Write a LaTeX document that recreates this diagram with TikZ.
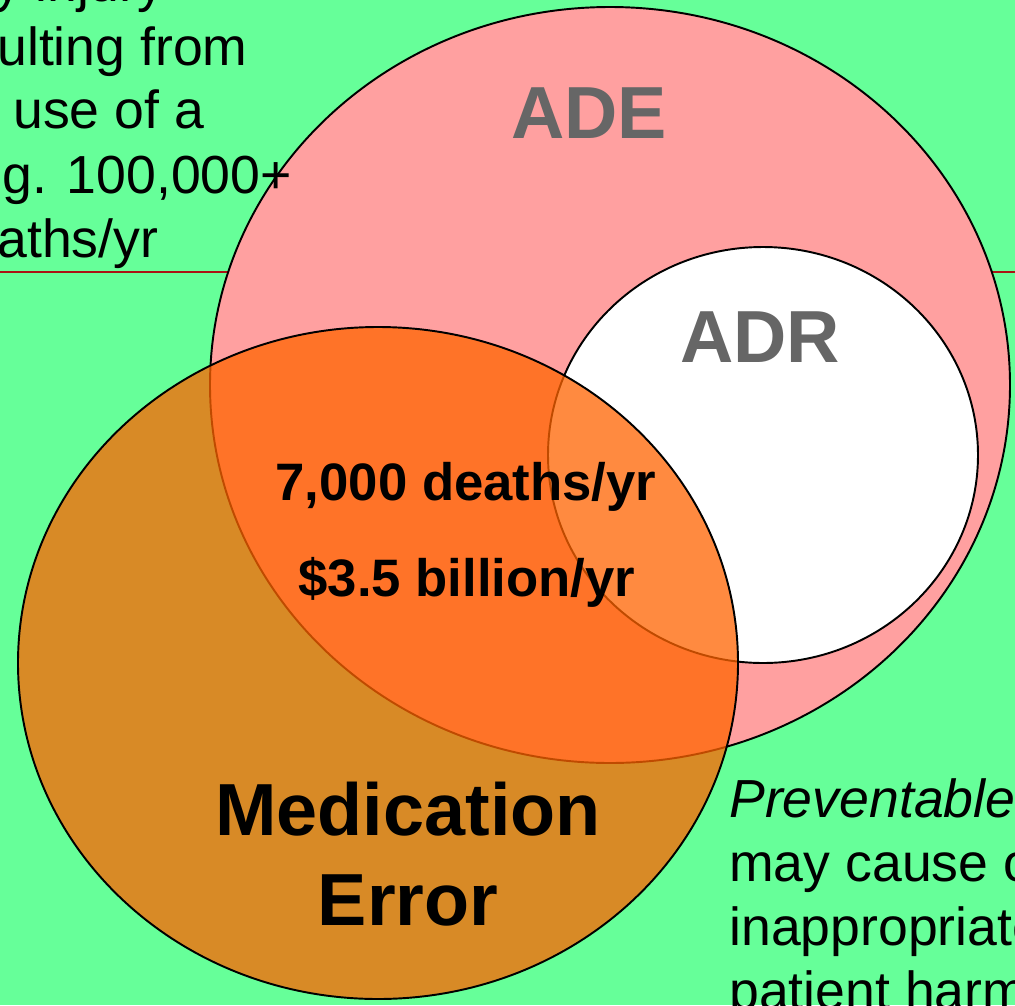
\documentclass[tikz,border=0pt]{standalone}
\usepackage{fontspec}
\setmainfont{Liberation Sans}
\definecolor{bggreen}{RGB}{102,255,153}
\definecolor{adepink}{RGB}{255,160,160}
\definecolor{mederr}{RGB}{255,100,0}
\definecolor{labelgray}{RGB}{102,102,102}
\definecolor{rulered}{RGB}{170,20,20}
\tikzset{
  venn/.style={draw=black,line width=1.1pt},
  biglabel/.style={font=\fontsize{42}{51}\selectfont\bfseries,inner sep=0pt,anchor=base},
  midlabel/.style={font=\fontsize{30}{36}\selectfont\bfseries,inner sep=0pt,anchor=base},
  sidetext/.style={font=\fontsize{30.5}{36.4}\selectfont,inner sep=0pt,anchor=base west}
}

\begin{document}
\begin{tikzpicture}[x=0.02cm,y=-0.02cm]
\useasboundingbox (0,0) rectangle (1015,1005);
\clip (0,0) rectangle (1015,1005);
\fill[bggreen] (0,0) rectangle (1015,1005);
% slide rule behind the circles
\coordinate (L1) at (0,272);
\coordinate (L2) at (1015,272);
\draw[rulered,line width=0.7pt] (L1) -- (L2);
% the three sets
\coordinate (ADEc) at (610,385);
\draw[venn,fill=adepink] (ADEc) ellipse [x radius=400,y radius=378];
\coordinate (ADRc) at (763,455);
\draw[venn,fill=white] (ADRc) ellipse [x radius=215,y radius=208];
\coordinate (MEc) at (378,663);
\draw[venn,fill=mederr,fill opacity=0.75] (MEc) ellipse [x radius=360,y radius=336];
% labels
\node[biglabel,labelgray] (ade) at (589,138) {ADE};
\node[biglabel,labelgray] (adr) at (760,362) {ADR};
\node[midlabel] (deaths) at (466,500) {7,000 deaths/yr};
\node[midlabel] (cost) at (467,596) {\$3.5 billion/yr};
\node[biglabel] (med) at (408,835) {Medication};
\node[biglabel] (err) at (408,925) {Error};
% text cut by the slide edge
\node[sidetext] (t1) at (-6,1) {y injury};
\node[sidetext] (t2) at (-3,65) {ulting from};
\node[sidetext] (t3) at (13,128) {use of a};
\node[sidetext] (t4) at (2,193) {g. 100,000+};
\node[sidetext] (t5) at (-3,257) {aths/yr};
\node[sidetext] (b1) at (729,817) {\textit{Preventable}};
\node[sidetext] (b2) at (729,881) {may cause o};
\node[sidetext] (b3) at (729,945) {inappropriate};
\node[sidetext] (b4) at (729,1009) {patient harm};
\end{tikzpicture}
\end{document}
